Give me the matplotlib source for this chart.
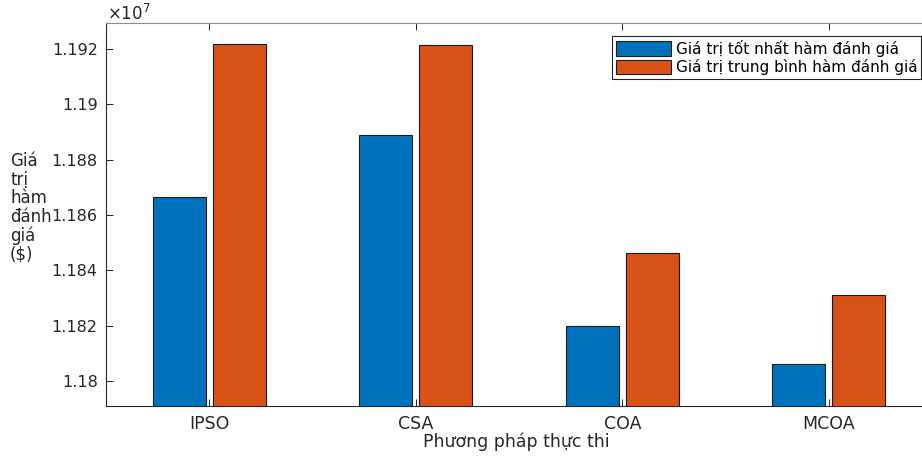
import matplotlib
matplotlib.use("Agg")
import matplotlib.pyplot as plt
import numpy as np
from matplotlib.ticker import FuncFormatter

plt.rcParams['font.family'] = ['DejaVu Sans']
plt.rcParams['mathtext.fontset'] = 'dejavusans'

categories = ['IPSO', 'CSA', 'COA', 'MCOA']
best_values = [11866600, 11888800, 11820000, 11806100]
mean_values = [11921800, 11921500, 11846150, 11830970]
series_labels = ['Giá trị tốt nhất hàm đánh giá', 'Giá trị trung bình hàm đánh giá']
y_ticks = [1.18e7, 1.182e7, 1.184e7, 1.186e7, 1.188e7, 1.19e7, 1.192e7]
x_label = 'Phương pháp thực thi'
y_label = 'Giá\ntrị\nhàm\nđánh\ngiá\n($)'

W, H = 922, 457
fig = plt.figure(figsize=(W / 100, H / 100), dpi=100)
ax_left, ax_right, ax_top, ax_bottom = 106, 932, 22.7, 406.3
ax = fig.add_axes([ax_left / W, 1 - ax_bottom / H, (ax_right - ax_left) / W, (ax_bottom - ax_top) / H])

x = np.arange(1, len(categories) + 1)
bw = 0.258
off = 0.145
ax.bar(x - off, best_values, bw, color='#0072BD', edgecolor='#1a1a1a', linewidth=0.8,
       label=series_labels[0], zorder=3)
ax.bar(x + off, mean_values, bw, color='#D95319', edgecolor='#1a1a1a', linewidth=0.8,
       label=series_labels[1], zorder=3)

ax.set_xlim(0.5, 4.5)
ax.set_ylim(1.179085e7, 1.192951e7)
ax.set_xticks(x)
ax.set_xticklabels(categories)
ax.set_yticks(y_ticks)
ax.yaxis.set_major_formatter(FuncFormatter(lambda v, p: ('%.3f' % (v / 1e7)).rstrip('0')))

ax.tick_params(direction='in', length=5, width=0.7, colors='#262626',
               top=True, right=True)
ax.tick_params(axis='x', pad=6, labelsize=12.5)
ax.tick_params(axis='y', pad=6, labelsize=11.5)
for s in ['left', 'bottom']:
    ax.spines[s].set_color('#262626')
    ax.spines[s].set_linewidth(0.8)
for s in ['top', 'right']:
    ax.spines[s].set_color('#8c8c8c')
    ax.spines[s].set_linewidth(0.8)

fig.text(516 / W, 1 - 442 / H, x_label, fontsize=12.5, color='#262626', ha='center', va='center')
fig.text(10 / W, 1 - 208 / H, y_label, fontsize=12, color='#262626', ha='left', va='center',
         linespacing=1.04)
fig.text(107 / W, 1 - 14 / H, r'$\times10^{7}$', fontsize=12, color='#262626', ha='left', va='center')

leg = ax.legend(loc='upper right', bbox_to_anchor=(921 / W, 1 - 36 / H), bbox_transform=fig.transFigure,
                fontsize=11, fancybox=False, framealpha=1, edgecolor='#262626',
                handlelength=3.6, handleheight=1.1, handletextpad=0.3, borderpad=0.25,
                labelspacing=0.15, borderaxespad=0)
leg.get_frame().set_linewidth(0.8)

fig.savefig('out.png', dpi=100)
